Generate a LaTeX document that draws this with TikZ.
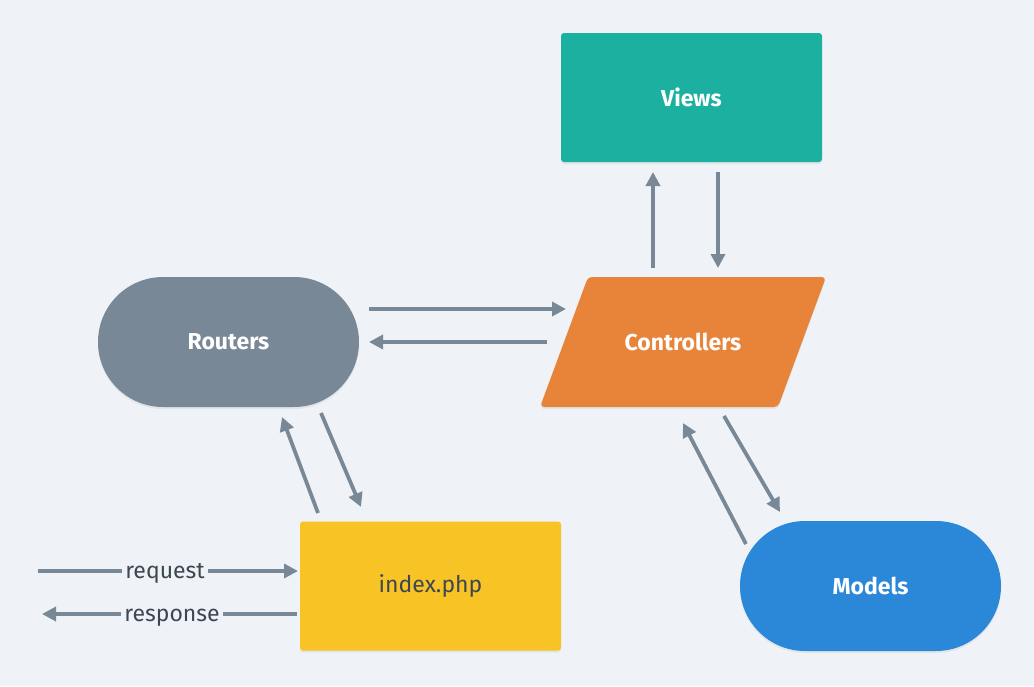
\documentclass[tikz,border=0pt]{standalone}
\usepackage{fontspec}
\setmainfont{Fira Sans}
\usetikzlibrary{arrows.meta,shadows}
\definecolor{bg}{HTML}{EFF3F7}
\definecolor{cview}{HTML}{1BB0A0}
\definecolor{crout}{HTML}{788896}
\definecolor{cctrl}{HTML}{E8843A}
\definecolor{cidx}{HTML}{F7C325}
\definecolor{cmod}{HTML}{2B88D8}
\definecolor{ctext}{HTML}{3D4752}
\definecolor{carrow}{HTML}{788896}
\tikzset{
  shd/.style={drop shadow={opacity=0.12,shadow xshift=0pt,shadow yshift=-2pt}},
  boxnode/.style={minimum width=261pt,minimum height=129pt,inner sep=0pt,rounded corners=3pt,shd},
  pillnode/.style={minimum width=261pt,minimum height=130pt,inner sep=0pt,rounded corners=65pt,shd},
  lbl/.style={text=white,font=\fontsize{23}{27}\selectfont\bfseries},
  conn/.style={draw=carrow,line width=3.8pt,-{Triangle[length=14pt,width=14pt]}},
  io/.style={fill=bg,text=ctext,inner xsep=3pt,inner ysep=2pt,text height=16pt,text depth=5pt,yshift=-2pt,font=\fontsize{23}{27}\selectfont}
}
\begin{document}
\begin{tikzpicture}[x=1pt,y=-1pt]
\useasboundingbox (0,0) rectangle (1034,686);
\fill[bg] (0,0) rectangle (1034,686);
% nodes
\node[boxnode,fill=cview,lbl] (views) at (691.5,97.5) {Views};
\node[pillnode,fill=crout,lbl] (routers) at (228.5,342) {Routers};
\fill[cctrl,rounded corners=4pt,shd] (588,277) -- (826,277) -- (778,407) -- (540,407) -- cycle;
\node[lbl,inner sep=0pt] (ctrl) at (683,342) {Controllers};
\node[boxnode,fill=cidx,text=ctext,font=\fontsize{23}{27}\selectfont] (index) at (430.5,586) {index.php};
\node[pillnode,fill=cmod,lbl] (models) at (870.5,586) {Models};
% connector end points
\coordinate (rc1) at (369,309); \coordinate (rc2) at (566,309);
\coordinate (cr1) at (547,342); \coordinate (cr2) at (369,342);
\coordinate (cv1) at (653,268); \coordinate (cv2) at (653,172);
\coordinate (vc1) at (718,172); \coordinate (vc2) at (718,268);
\coordinate (ir1) at (318,513); \coordinate (ir2) at (282,417);
\coordinate (ri1) at (321,413); \coordinate (ri2) at (361,507);
\coordinate (mc1) at (746,544); \coordinate (mc2) at (683,423);
\coordinate (cm1) at (724,416); \coordinate (cm2) at (780,512);
\coordinate (rq1) at (38,571); \coordinate (rq2) at (298,571);
\coordinate (rs1) at (297,614); \coordinate (rs2) at (42,614);
% connectors
\draw[conn] (rc1) -- (rc2);
\draw[conn] (cr1) -- (cr2);
\draw[conn] (cv1) -- (cv2);
\draw[conn] (vc1) -- (vc2);
\draw[conn] (ir1) -- (ir2);
\draw[conn] (ri1) -- (ri2);
\draw[conn] (mc1) -- (mc2);
\draw[conn] (cm1) -- (cm2);
\draw[conn] (rq1) -- (rq2) node[io,pos=0.5,xshift=-3pt] (req) {request};
\draw[conn] (rs1) -- (rs2) node[io,pos=0.49] (resp) {response};
\end{tikzpicture}
\end{document}
